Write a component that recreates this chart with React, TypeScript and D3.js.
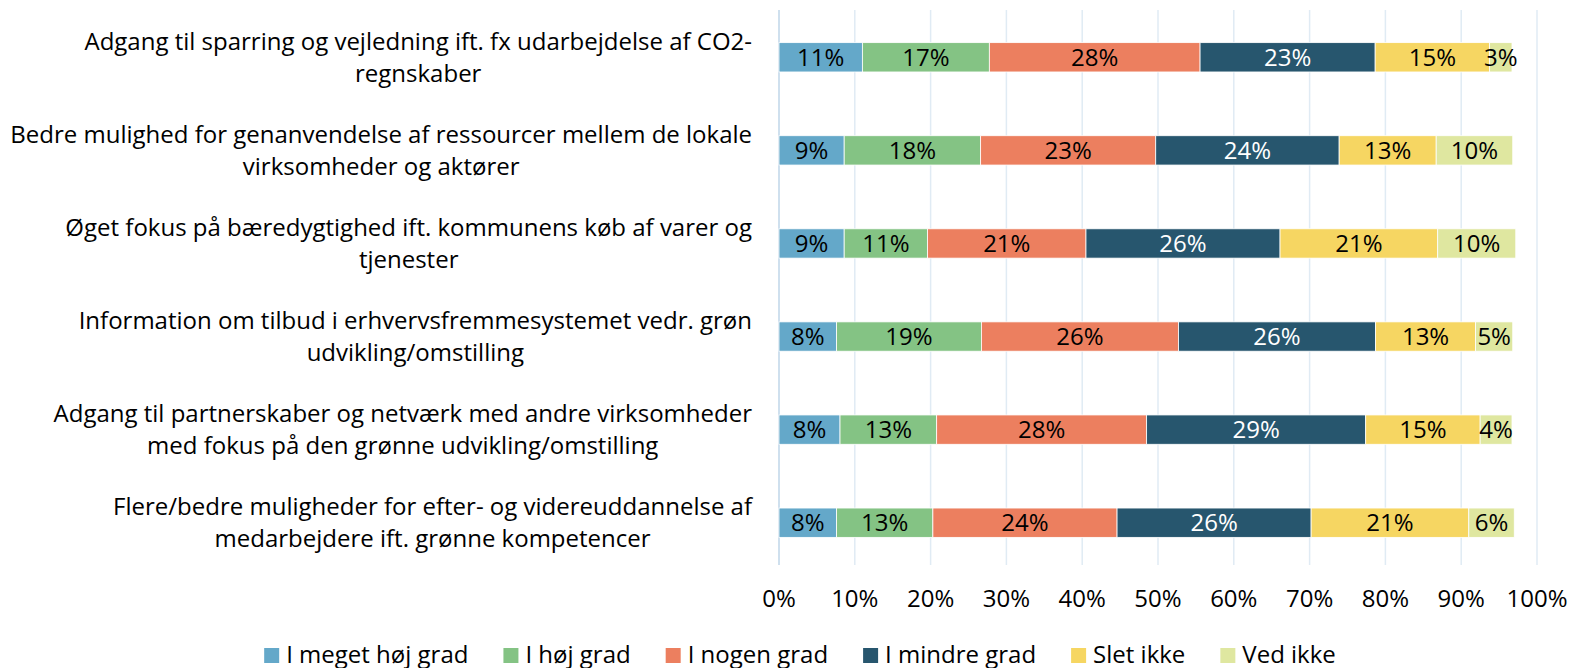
import * as d3 from 'd3';
import { useRef, useEffect } from 'react';

const categories = [
  ['Adgang til sparring og vejledning ift. fx udarbejdelse af CO2-', 'regnskaber'],
  ['Bedre mulighed for genanvendelse af ressourcer mellem de lokale', 'virksomheder og aktører'],
  ['Øget fokus på bæredygtighed ift. kommunens køb af varer og', 'tjenester'],
  ['Information om tilbud i erhvervsfremmesystemet vedr. grøn', 'udvikling/omstilling'],
  ['Adgang til partnerskaber og netværk med andre virksomheder', 'med fokus på den grønne udvikling/omstilling'],
  ['Flere/bedre muligheder for efter- og videreuddannelse af', 'medarbejdere ift. grønne kompetencer'],
];

const seriesNames = ['I meget høj grad', 'I høj grad', 'I nogen grad', 'I mindre grad', 'Slet ikke', 'Ved ikke'];
const seriesColors = ['#64a8c9', '#84c384', '#ec7f5f', '#27566e', '#f6d662', '#dfe7a0'];
const labelColors = ['#000', '#000', '#000', '#fff', '#000', '#000'];

// one value per category (percent)
const meget = [11.0, 8.6, 8.6, 7.6, 8.05, 7.6];
const hoej = [16.75, 18.0, 11.0, 19.1, 12.75, 12.7];
const nogen = [27.8, 23.1, 20.9, 26.0, 27.7, 24.3];
const mindre = [23.1, 24.2, 25.6, 26.0, 28.9, 25.6];
const slet = [15.1, 12.8, 20.8, 13.2, 15.1, 20.8];
const vedIkke = [2.95, 10.1, 10.3, 4.9, 4.2, 6.0];

const xTicks = [0, 10, 20, 30, 40, 50, 60, 70, 80, 90, 100];

const W = 1570;
const H = 668;
const FONT = '"Open Sans", sans-serif';
const FS = 24;

function StackedChart() {
  const svgRef = useRef<SVGSVGElement>(null);

  useEffect(() => {
    const svg = d3.select(svgRef.current);
    svg.selectAll('*').remove();

    const margin = { top: 11, left: 779, right: 33, bottom: 105 };
    const innerBottom = H - margin.bottom;

    const rows = categories.map((c, i) => ({
      name: String(i),
      values: [meget[i], hoej[i], nogen[i], mindre[i], slet[i], vedIkke[i]],
    }));

    const x = d3.scaleLinear().domain([0, 100]).range([margin.left, W - margin.right]);
    const y = d3.scaleBand()
      .domain(rows.map(r => r.name))
      .range([margin.top, innerBottom + 6])
      .paddingInner(0.685)
      .paddingOuter(0.34);

    // gridlines
    svg.append('g')
      .selectAll('line')
      .data(xTicks)
      .join('line')
      .attr('x1', d => x(d))
      .attr('x2', d => x(d))
      .attr('y1', 10)
      .attr('y2', 565)
      .attr('stroke', d => (d === 0 ? '#cfe0ee' : '#e0ebf4'))
      .attr('stroke-width', d => (d === 0 ? 2 : 1.5));

    // tick labels
    svg.append('g')
      .selectAll('text')
      .data(xTicks)
      .join('text')
      .attr('x', d => x(d))
      .attr('y', 607)
      .attr('text-anchor', 'middle')
      .attr('font-family', FONT)
      .attr('font-size', FS)
      .attr('fill', '#000')
      .text(d => `${d}%`);

    // stacked bars
    const stacked = rows.map(r => {
      let acc = 0;
      return r.values.map((v, k) => {
        const seg = { row: r.name, k, x0: acc, x1: acc + v, v };
        acc += v;
        return seg;
      });
    }).flat();

    const bars = svg.append('g');
    bars.selectAll('rect')
      .data(stacked)
      .join('rect')
      .attr('x', d => x(d.x0))
      .attr('width', d => x(d.x1) - x(d.x0))
      .attr('y', d => y(d.row)!)
      .attr('height', y.bandwidth())
      .attr('fill', d => seriesColors[d.k])
      .attr('stroke', '#fff')
      .attr('stroke-width', 0.8);

    bars.selectAll('text')
      .data(stacked)
      .join('text')
      .attr('x', d => (x(d.x0) + x(d.x1)) / 2)
      .attr('y', d => y(d.row)! + y.bandwidth() / 2)
      .attr('dy', '0.36em')
      .attr('text-anchor', 'middle')
      .attr('font-family', FONT)
      .attr('font-size', FS)
      .attr('fill', d => labelColors[d.k])
      .text(d => `${Math.round(d.v)}%`);

    // category labels: centered block, widest line right-aligned at 752
    const catG = svg.append('g');
    rows.forEach((r, i) => {
      const cy = y(r.name)! + y.bandwidth() / 2;
      const lines = categories[i];
      const tmp = lines.map(l => catG.append('text')
        .attr('font-family', FONT)
        .attr('font-size', FS)
        .text(l));
      const maxW = d3.max(tmp, t => (t.node() as SVGTextElement).getComputedTextLength()) || 0;
      const cx = 752 - maxW / 2;
      const lh = 32;
      tmp.forEach((t, j) => {
        t.attr('x', cx)
          .attr('y', cy + (j - (lines.length - 1) / 2) * lh)
          .attr('dy', '0.36em')
          .attr('text-anchor', 'middle')
          .attr('fill', '#000');
      });
    });

    // legend (the bottom edge of the page clips the descenders, as in the original)
    const leg = svg.append('g');
    const items = seriesNames.map((n, i) => {
      const g = leg.append('g');
      g.append('rect')
        .attr('width', 15)
        .attr('height', 15)
        .attr('y', -15)
        .attr('fill', seriesColors[i]);
      const t = g.append('text')
        .attr('x', 22)
        .attr('font-family', FONT)
        .attr('font-size', FS)
        .attr('fill', '#000')
        .text(n);
      const w = 22 + (t.node() as SVGTextElement).getComputedTextLength();
      return { g, w };
    });
    const gap = 35;
    const total = d3.sum(items, d => d.w) + gap * (items.length - 1);
    let lx = 800 - total / 2;
    items.forEach(it => {
      it.g.attr('transform', `translate(${lx},663)`);
      lx += it.w + gap;
    });
  }, []);

  return <svg ref={svgRef} width={W} height={H} style={{ display: 'block' }}></svg>;
}

export default function App() {
  return (
    <div style={{ position: 'absolute', left: 0, top: 0 }}>
      <StackedChart />
    </div>
  );
}
